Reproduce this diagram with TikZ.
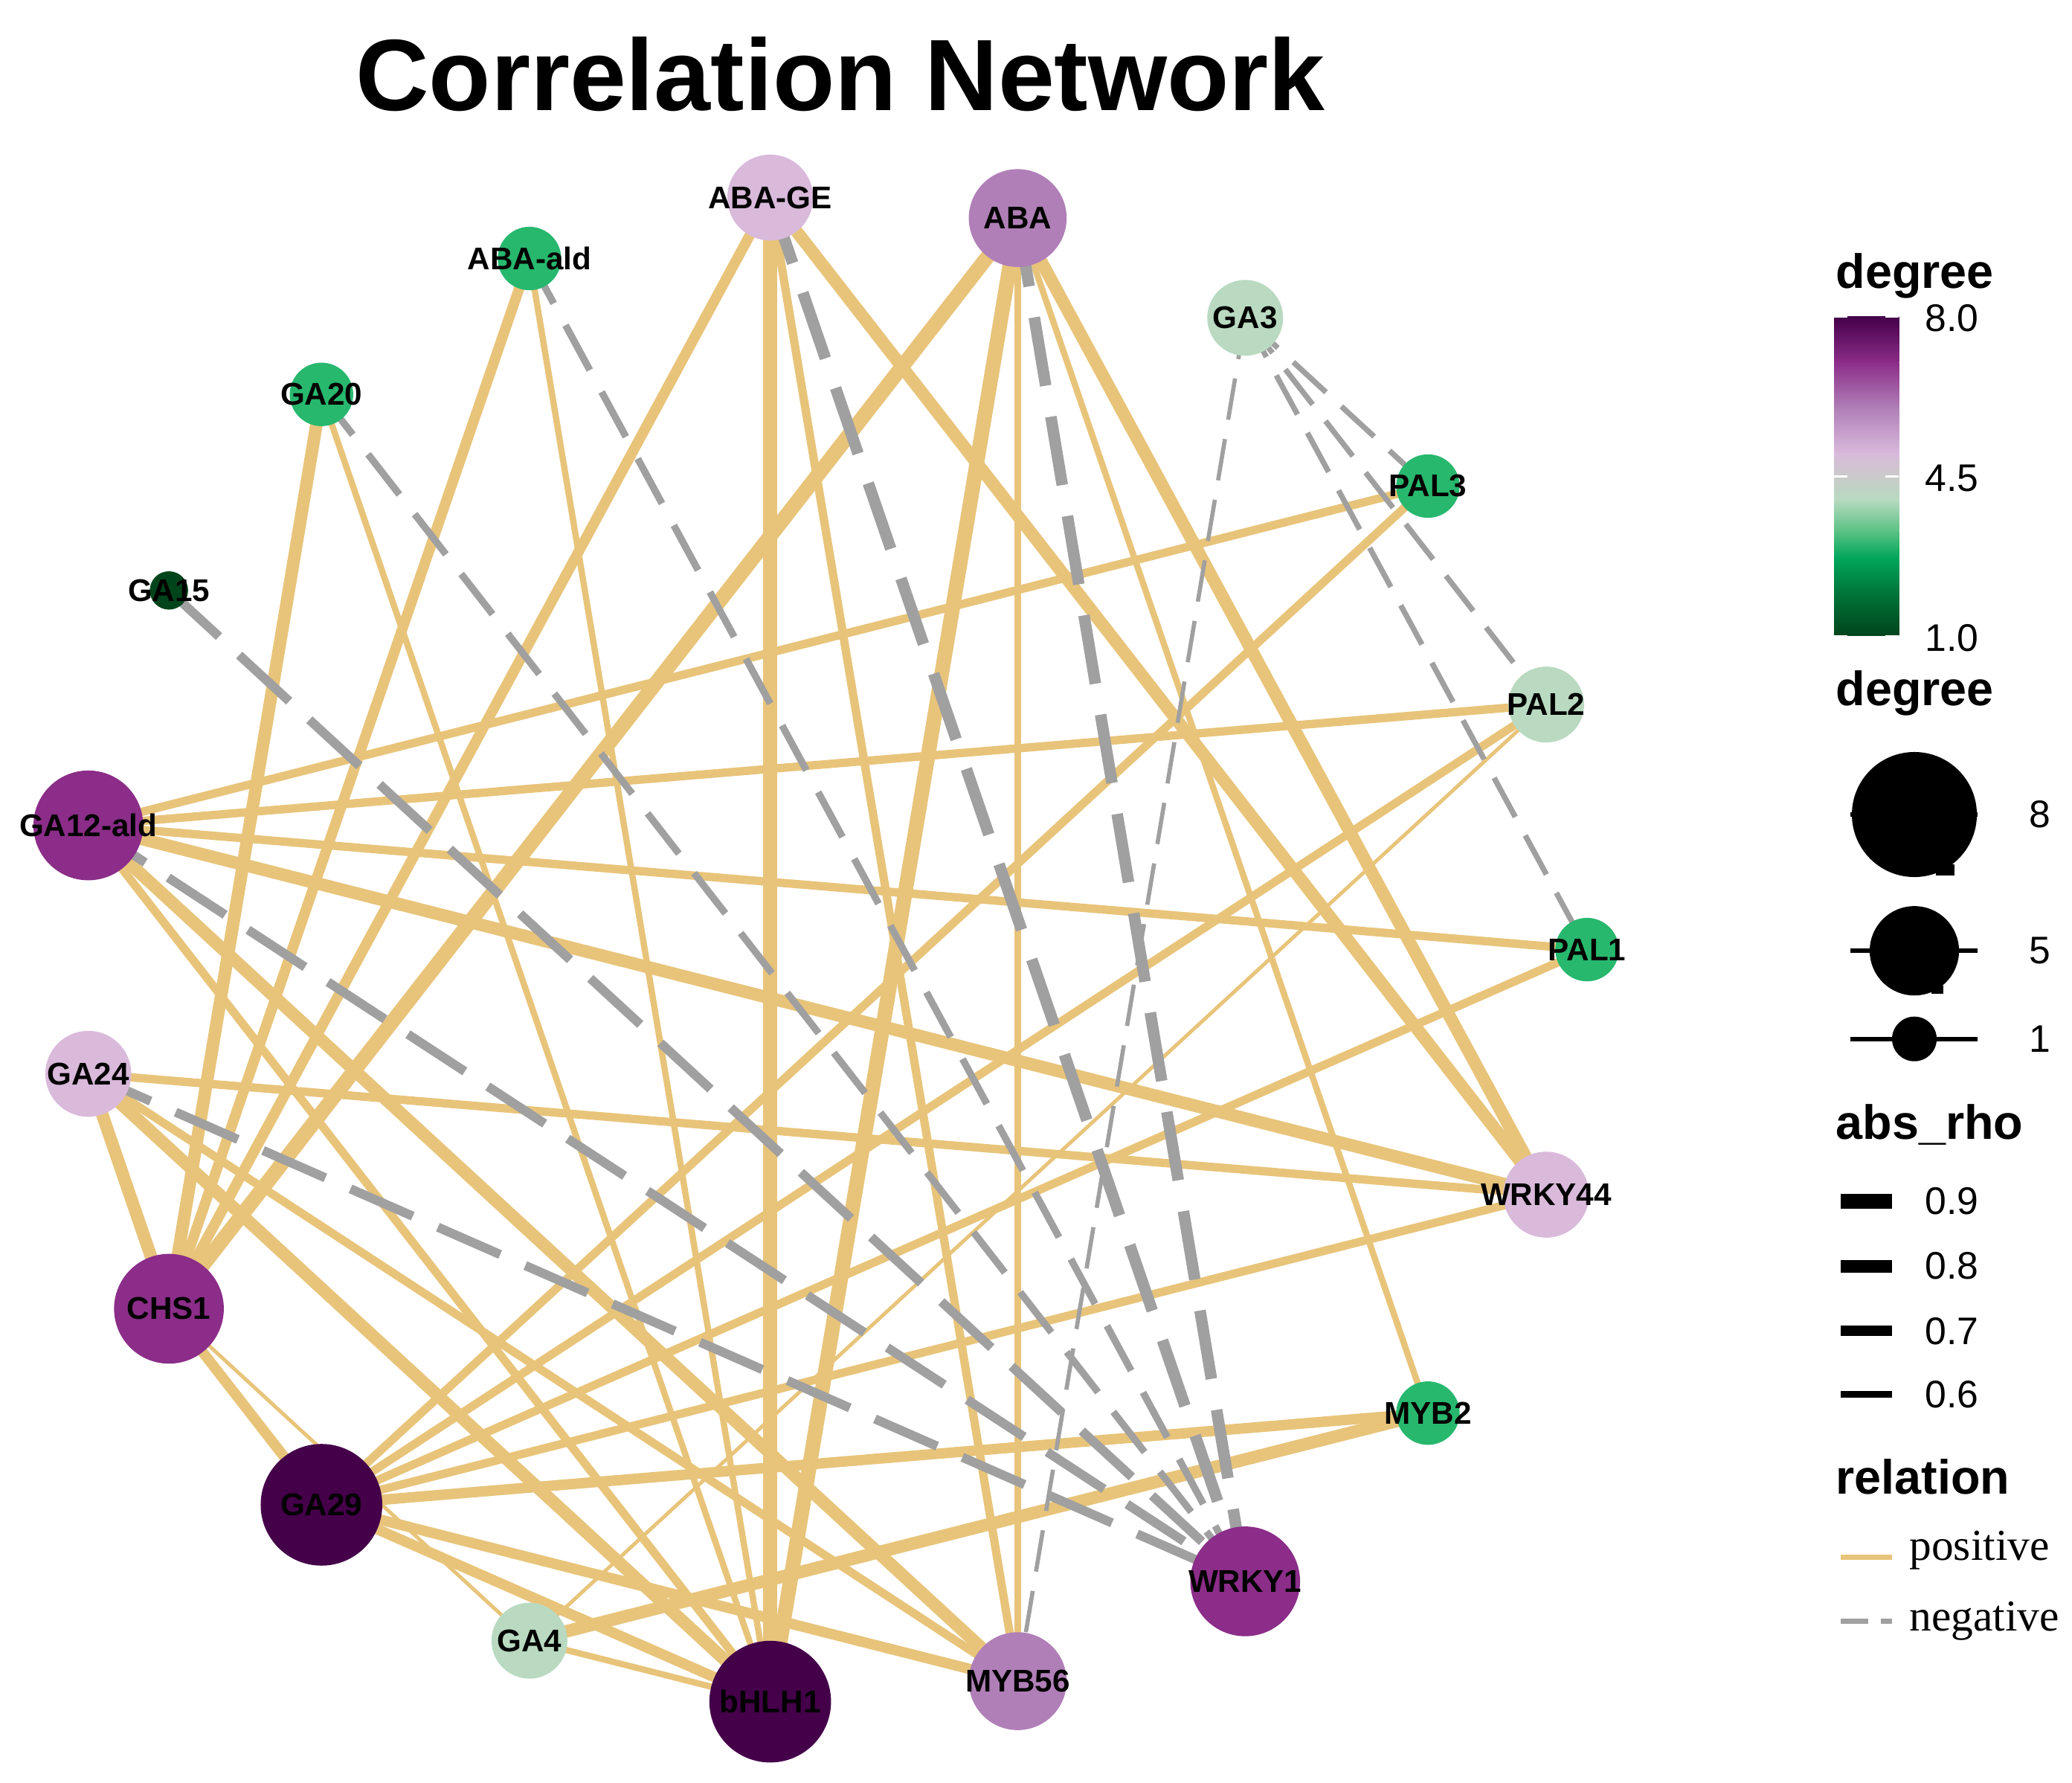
\documentclass[tikz,border=0pt]{standalone}
\usepackage{fontspec}
\setmainfont{Liberation Sans}
\newfontfamily\relfont{Liberation Serif}

\definecolor{poscol}{HTML}{E8C47A}
\definecolor{negcol}{HTML}{A0A0A0}
\definecolor{degone}{HTML}{00441B}
\definecolor{degthree}{HTML}{27B86E}
\definecolor{degfour}{HTML}{B9DAC1}
\definecolor{degfive}{HTML}{D9BADB}
\definecolor{degsix}{HTML}{B07FB7}
\definecolor{degseven}{HTML}{8B2D89}
\definecolor{degeight}{HTML}{45004A}
% colour bar stops
\definecolor{cbA}{HTML}{00441B}
\definecolor{cbB}{HTML}{00793C}
\definecolor{cbC}{HTML}{00A65A}
\definecolor{cbD}{HTML}{5CC285}
\definecolor{cbE}{HTML}{B9DAC1}
\definecolor{cbF}{HTML}{CACACA}
\definecolor{cbG}{HTML}{D9BADB}
\definecolor{cbH}{HTML}{B07FB7}
\definecolor{cbI}{HTML}{8B2D89}
\definecolor{cbJ}{HTML}{45004A}

\pgfdeclarelayer{edgelayer}
\pgfsetlayers{edgelayer,main}

\begin{document}
\begin{tikzpicture}[x=0.017768cm,y=0.017768cm,
	vertex/.style={circle,draw=none,inner sep=0pt},
	vdeg1/.style={vertex,fill=degone,minimum size=0.515cm},
	vdeg3/.style={vertex,fill=degthree,minimum size=0.853cm},
	vdeg4/.style={vertex,fill=degfour,minimum size=1.02cm},
	vdeg5/.style={vertex,fill=degfive,minimum size=1.155cm},
	vdeg6/.style={vertex,fill=degsix,minimum size=1.315cm},
	vdeg7/.style={vertex,fill=degseven,minimum size=1.475cm},
	vdeg8/.style={vertex,fill=degeight,minimum size=1.635cm},
	lbl/.style={font=\bfseries\fontsize{12}{12}\selectfont,inner sep=0pt},
	pw1/.style={draw=poscol,line width=1.4pt},
	pw2/.style={draw=poscol,line width=2.4pt},
	pw3/.style={draw=poscol,line width=3.2pt},
	pw4/.style={draw=poscol,line width=4.0pt},
	pw5/.style={draw=poscol,line width=4.8pt},
	pw6/.style={draw=poscol,line width=5.6pt},
	nw1/.style={draw=negcol,line width=1.6pt,dash pattern=on 16pt off 7.5pt},
	nw2/.style={draw=negcol,line width=2.1pt,dash pattern=on 17pt off 8pt},
	nw3/.style={draw=negcol,line width=2.7pt,dash pattern=on 19.5pt off 9.5pt},
	nw4/.style={draw=negcol,line width=3.5pt,dash pattern=on 26pt off 10.5pt},
	nw5/.style={draw=negcol,line width=4.4pt,dash pattern=on 26.5pt off 12pt},
	legtitle/.style={font=\bfseries\fontsize{18.4}{18.4}\selectfont,inner sep=0pt,anchor=base west},
	legnum/.style={font=\fontsize{14.7}{14.7}\selectfont,inner sep=0pt,anchor=west},
	legword/.style={font=\relfont\fontsize{16.9}{16.9}\selectfont,inner sep=0pt,anchor=base west}]

\useasboundingbox (0,0) rectangle (1568,1349);

% title
\node (title) at (636,1265.4) [anchor=base,inner sep=0pt,font=\bfseries\fontsize{38.8}{40}\selectfont] {Correlation Network};

% vertices on the circle
\begin{scope}[shift={(630,630.5)}]
	\node (PAL1) at (0:571) [vdeg3,label={[lbl]center:PAL1}] {};
	\node (PAL2) at (18.947:571) [vdeg4,label={[lbl]center:PAL2}] {};
	\node (PAL3) at (37.895:571) [vdeg3,label={[lbl]center:PAL3}] {};
	\node (GA3) at (56.842:571) [vdeg4,label={[lbl]center:GA3}] {};
	\node (ABA) at (75.789:571) [vdeg6,label={[lbl]center:ABA}] {};
	\node (ABAGE) at (94.737:571) [vdeg5,label={[lbl]center:ABA-GE}] {};
	\node (ABAald) at (113.684:571) [vdeg3,label={[lbl]center:ABA-ald}] {};
	\node (GA20) at (132.632:571) [vdeg3,label={[lbl]center:GA20}] {};
	\node (GA15) at (151.579:571) [vdeg1,label={[lbl]center:GA15}] {};
	\node (GA12ald) at (170.526:571) [vdeg7,label={[lbl]center:GA12-ald}] {};
	\node (GA24) at (189.474:571) [vdeg5,label={[lbl]center:GA24}] {};
	\node (CHS1) at (208.421:571) [vdeg7,label={[lbl]center:CHS1}] {};
	\node (GA29) at (227.368:571) [vdeg8,label={[lbl]center:GA29}] {};
	\node (GA4) at (246.316:571) [vdeg4,label={[lbl]center:GA4}] {};
	\node (bHLH1) at (265.263:571) [vdeg8,label={[lbl]center:bHLH1}] {};
	\node (MYB56) at (284.211:571) [vdeg6,label={[lbl]center:MYB56}] {};
	\node (WRKY1) at (303.158:571) [vdeg7,label={[lbl]center:WRKY1}] {};
	\node (MYB2) at (322.105:571) [vdeg3,label={[lbl]center:MYB2}] {};
	\node (WRKY44) at (341.053:571) [vdeg5,label={[lbl]center:WRKY44}] {};
\end{scope}

% edges, under the vertices
\begin{pgfonlayer}{edgelayer}
	% positive
	\draw
	(ABAGE.center) edge[pw4] (CHS1.center)
	(ABAGE.center) edge[pw6] (bHLH1.center)
	(ABAGE.center) edge[pw3] (MYB56.center)
	(ABAGE.center) edge[pw5] (WRKY44.center)
	(ABA.center) edge[pw6] (CHS1.center)
	(ABA.center) edge[pw6] (bHLH1.center)
	(ABA.center) edge[pw2] (MYB56.center)
	(ABA.center) edge[pw5] (WRKY44.center)
	(ABA.center) edge[pw2] (MYB2.center)
	(ABAald.center) edge[pw4] (CHS1.center)
	(ABAald.center) edge[pw2] (bHLH1.center)
	(GA20.center) edge[pw5] (CHS1.center)
	(GA20.center) edge[pw2] (bHLH1.center)
	(GA12ald.center) edge[pw3] (PAL3.center)
	(GA12ald.center) edge[pw3] (PAL2.center)
	(GA12ald.center) edge[pw3] (PAL1.center)
	(GA12ald.center) edge[pw5] (WRKY44.center)
	(GA12ald.center) edge[pw5] (MYB56.center)
	(GA12ald.center) edge[pw3] (bHLH1.center)
	(GA24.center) edge[pw3] (WRKY44.center)
	(GA24.center) edge[pw5] (CHS1.center)
	(GA24.center) edge[pw5] (bHLH1.center)
	(GA24.center) edge[pw3] (MYB56.center)
	(CHS1.center) edge[pw4] (GA29.center)
	(CHS1.center) edge[pw1] (GA4.center)
	(GA29.center) edge[pw3] (PAL3.center)
	(GA29.center) edge[pw3] (PAL2.center)
	(GA29.center) edge[pw3] (PAL1.center)
	(GA29.center) edge[pw3] (WRKY44.center)
	(GA29.center) edge[pw4] (MYB2.center)
	(GA29.center) edge[pw4] (MYB56.center)
	(GA29.center) edge[pw4] (bHLH1.center)
	(PAL2.center) edge[pw1] (GA4.center)
	(GA4.center) edge[pw5] (MYB2.center)
	(GA4.center) edge[pw2] (bHLH1.center)
	;
	% negative
	\draw
	(GA3.center) edge[nw2] (PAL3.center)
	(GA3.center) edge[nw2] (PAL2.center)
	(GA3.center) edge[nw2] (PAL1.center)
	(GA3.center) edge[nw1] (MYB56.center)
	(GA15.center) edge[nw4] (WRKY1.center)
	(GA20.center) edge[nw3] (WRKY1.center)
	(ABAald.center) edge[nw3] (WRKY1.center)
	(ABAGE.center) edge[nw5] (WRKY1.center)
	(ABA.center) edge[nw5] (WRKY1.center)
	(GA12ald.center) edge[nw4] (WRKY1.center)
	(GA24.center) edge[nw4] (WRKY1.center)
	;
\end{pgfonlayer}

% legend: degree colour bar
\node (degtitle) at (1389,1131) [legtitle] {degree};
\foreach \va/\vb/\ca/\cb in {1/2/cbA/cbB,2/2.7/cbB/cbC,2.7/3.3/cbC/cbD,3.3/4/cbD/cbE,4/4.5/cbE/cbF,4.5/5/cbF/cbG,5/6/cbG/cbH,6/7/cbH/cbI,7/8/cbI/cbJ}
	\shade[bottom color=\ca,top color=\cb] (1388,{868+(\va-1)*34.43}) rectangle (1437,{868+(\vb-1)*34.43+0.3});
\foreach \v in {1,4.5,8} {
	\draw[white,line width=0.6pt] (1388,{868+(\v-1)*34.43}) -- ++(10,0);
	\draw[white,line width=0.6pt] (1437,{868+(\v-1)*34.43}) -- ++(-10,0);
}
\node (cbtop) at (1456.6,1108) [legnum] {8.0};
\node (cbmid) at (1456.6,987) [legnum] {4.5};
\node (cbbot) at (1456.6,866.5) [legnum] {1.0};

% legend: degree sizes
\node (sizetitle) at (1389,815) [legtitle] {degree};
\draw[line width=1.7pt] (1400.5,732.7) -- (1496.6,732.7);
\fill (1448.7,732.7) circle (47.3);
\fill (1465,686.6) rectangle (1479,695);
\draw[line width=1.7pt] (1400.5,629.6) -- (1496.6,629.6);
\fill (1448.7,629.6) circle (33.8);
\fill (1461.5,597.1) rectangle (1470.4,603.3);
\draw[line width=1.7pt] (1400.5,562.9) -- (1496.6,562.9);
\fill (1448.7,562.9) circle (16.9);
\node (sizeA) at (1535.5,732.7) [legnum] {8};
\node (sizeB) at (1535.5,629.6) [legnum] {5};
\node (sizeC) at (1535.5,562.9) [legnum] {1};

% legend: abs_rho widths
\node (rhotitle) at (1389,487) [legtitle] {abs\_rho};
\draw[line width=5.5pt] (1393,440) -- (1432,440);
\draw[line width=4.8pt] (1393,391) -- (1432,391);
\draw[line width=4.1pt] (1393,342) -- (1432,342);
\draw[line width=2.6pt] (1393,294) -- (1432,294);
\node (rhoA) at (1456.6,440) [legnum] {0.9};
\node (rhoB) at (1456.6,391) [legnum] {0.8};
\node (rhoC) at (1456.6,342) [legnum] {0.7};
\node (rhoD) at (1456.6,294) [legnum] {0.6};

% legend: relation
\node (reltitle) at (1389,218.6) [legtitle] {relation};
\draw[poscol,line width=2pt] (1393,171) -- (1432,171);
\draw[negcol,line width=2pt,dash pattern=on 10.5pt off 4.8pt] (1393,122.3) -- (1432,122.3);
\node (relpos) at (1444.6,168.5) [legword] {positive};
\node (relneg) at (1444.6,115.3) [legword] {negative};
\end{tikzpicture}
\end{document}
